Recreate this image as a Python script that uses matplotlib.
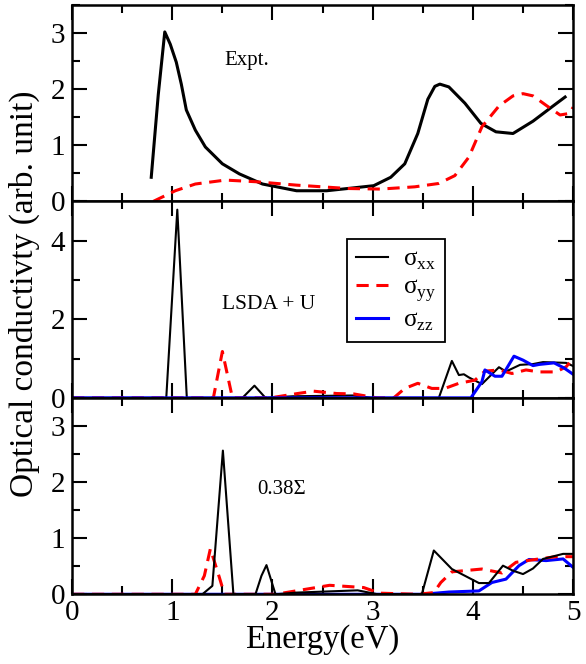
import matplotlib
matplotlib.use("Agg")
import matplotlib.pyplot as plt
from matplotlib.ticker import MultipleLocator

plt.rcParams['font.family'] = ['Liberation Serif', 'DejaVu Serif']
plt.rcParams['mathtext.fontset'] = 'custom'
plt.rcParams['mathtext.rm'] = 'Liberation Serif'

# --- Expt. panel ---
expt_xx_e = [0.79, 0.86, 0.925, 0.98, 1.04, 1.09, 1.14, 1.23, 1.33, 1.50, 1.67, 1.90, 2.24, 2.54,
             2.75, 3.01, 3.18, 3.32, 3.45, 3.55, 3.62, 3.67, 3.76, 3.92, 4.08, 4.23, 4.40, 4.60,
             4.80, 4.92]
expt_xx_s = [0.43, 1.90, 3.02, 2.80, 2.48, 2.09, 1.63, 1.27, 0.97, 0.67, 0.49, 0.31, 0.19, 0.19,
             0.23, 0.28, 0.43, 0.67, 1.21, 1.82, 2.05, 2.09, 2.04, 1.75, 1.39, 1.24, 1.21, 1.43,
             1.70, 1.86]
expt_yy_e = [0.81, 1.03, 1.23, 1.53, 1.84, 2.24, 2.75, 3.08, 3.42, 3.66, 3.82, 3.96, 4.09, 4.26,
             4.40, 4.50, 4.60, 4.74, 4.87, 4.97, 5.0]
expt_yy_s = [0.0, 0.19, 0.31, 0.38, 0.35, 0.29, 0.23, 0.22, 0.26, 0.32, 0.46, 0.79, 1.33, 1.70,
             1.88, 1.92, 1.88, 1.70, 1.54, 1.57, 1.68]

# --- LSDA + U panel ---
lsda_xx_e = [0.0, 0.94, 1.05, 1.145, 1.70, 1.82, 1.93, 2.2, 2.8, 3.0, 3.66, 3.79, 3.86, 3.91,
             3.96, 4.09, 4.26, 4.33, 4.47, 4.60, 4.70, 4.93, 5.0]
lsda_xx_s = [0.0, 0.0, 4.79, 0.0, 0.0, 0.31, 0.0, 0.04, 0.06, 0.0, 0.0, 0.94, 0.58, 0.60,
             0.52, 0.35, 0.78, 0.67, 0.84, 0.86, 0.91, 0.89, 0.81]
lsda_yy_e = [0.0, 1.41, 1.50, 1.60, 1.98, 2.25, 2.41, 2.64, 2.81, 3.04, 3.21, 3.32, 3.45, 3.59,
             3.72, 3.86, 4.02, 4.12, 4.26, 4.39, 4.53, 4.66, 4.83, 4.93, 5.0]
lsda_yy_s = [0.0, 0.0, 1.18, 0.0, 0.0, 0.11, 0.17, 0.11, 0.10, 0.0, 0.0, 0.24, 0.37, 0.24,
             0.24, 0.37, 0.45, 0.68, 0.71, 0.62, 0.71, 0.66, 0.66, 0.79, 1.0]
lsda_zz_e = [0.0, 3.98, 4.09, 4.12, 4.22, 4.29, 4.41, 4.50, 4.60, 4.66, 4.81, 4.91, 5.0]
lsda_zz_s = [0.0, 0.0, 0.41, 0.71, 0.55, 0.55, 1.06, 0.96, 0.82, 0.85, 0.89, 0.76, 0.60]

# --- 0.38 Sigma panel ---
sig_xx_e = [0.0, 1.30, 1.40, 1.505, 1.61, 1.83, 1.89, 1.94, 2.03, 2.24, 2.85, 3.05, 3.49, 3.61,
            3.79, 3.92, 4.06, 4.16, 4.30, 4.40, 4.50, 4.60, 4.70, 4.90, 5.0]
sig_xx_s = [0.0, 0.0, 0.15, 2.56, 0.0, 0.0, 0.33, 0.52, 0.0, 0.03, 0.07, 0.0, 0.0, 0.78,
            0.45, 0.33, 0.20, 0.20, 0.51, 0.42, 0.36, 0.46, 0.63, 0.72, 0.72]
sig_yy_e = [0.0, 1.23, 1.32, 1.38, 1.47, 1.52, 2.03, 2.57, 2.91, 3.07, 3.45, 3.61, 3.68, 3.79,
            4.09, 4.29, 4.43, 4.66, 4.83, 5.0]
sig_yy_s = [0.0, 0.0, 0.33, 0.81, 0.30, 0.0, 0.0, 0.16, 0.12, 0.02, 0.0, 0.03, 0.21, 0.40,
            0.45, 0.38, 0.57, 0.63, 0.67, 0.67]
sig_zz_e = [0.0, 3.50, 3.76, 4.06, 4.19, 4.33, 4.46, 4.56, 4.73, 4.90, 5.0]
sig_zz_s = [0.0, 0.0, 0.04, 0.06, 0.21, 0.27, 0.51, 0.62, 0.60, 0.63, 0.48]

panel_names = ['Expt.', 'LSDA + U', '0.38Σ']
legend_labels = ['σ$_{\\rm xx}$', 'σ$_{\\rm yy}$', 'σ$_{\\rm zz}$']

fig, axes = plt.subplots(3, 1, sharex=True, figsize=(5.86, 6.64), dpi=100)
fig.subplots_adjust(left=0.123, right=0.978, bottom=0.105, top=0.9925, hspace=0)

dash = (0, (4, 2.5))
ax = axes[0]
ax.plot(expt_xx_e, expt_xx_s, color='black', lw=2.2)
ax.plot(expt_yy_e, expt_yy_s, color='red', lw=2.2, ls=dash)
ax.set_ylim(0, 3.5)
ax.yaxis.set_major_locator(MultipleLocator(1))
ax.yaxis.set_minor_locator(MultipleLocator(0.5))
ax.text(1.52, 2.51, panel_names[0], fontsize=15, va='center')

ax = axes[1]
ax.plot(lsda_xx_e, lsda_xx_s, color='black', lw=1.5, label=legend_labels[0])
ax.plot(lsda_yy_e, lsda_yy_s, color='red', lw=2.2, ls=dash, label=legend_labels[1])
ax.plot(lsda_zz_e, lsda_zz_s, color='blue', lw=2.2, label=legend_labels[2])
ax.set_ylim(0, 5)
ax.yaxis.set_major_locator(MultipleLocator(2))
ax.yaxis.set_minor_locator(MultipleLocator(1))
ax.text(1.50, 2.37, panel_names[1], fontsize=15.5, va='center')
leg = ax.legend(loc='upper left', bbox_to_anchor=(0.549, 0.808), fontsize=18,
                handlelength=1.3, borderpad=0.35, labelspacing=0.2, handletextpad=0.6,
                fancybox=False, framealpha=1, edgecolor='black', borderaxespad=0)
leg.get_frame().set_linewidth(1.3)

ax = axes[2]
ax.plot(sig_zz_e, sig_zz_s, color='blue', lw=2.2)
ax.plot(sig_yy_e, sig_yy_s, color='red', lw=2.2, ls=dash)
ax.plot(sig_xx_e, sig_xx_s, color='black', lw=1.5)
ax.set_ylim(0, 3.5)
ax.yaxis.set_major_locator(MultipleLocator(1))
ax.yaxis.set_minor_locator(MultipleLocator(0.5))
ax.text(1.85, 1.86, panel_names[2], fontsize=15, va='center')

for ax in axes:
    ax.set_xlim(0, 5)
    ax.xaxis.set_major_locator(MultipleLocator(1))
    ax.xaxis.set_minor_locator(MultipleLocator(0.5))
    ax.tick_params(which='both', direction='in', top=True, right=True, labelsize=21, width=1.5)
    ax.tick_params(which='major', length=11)
    ax.tick_params(which='minor', length=6)
    ax.tick_params(axis='y', which='major', pad=5)
    ax.tick_params(axis='x', which='major', pad=4)
    for s in ax.spines.values():
        s.set_linewidth(1.8)

axes[2].set_xlabel('Energy(eV)', fontsize=23.5, labelpad=-1)
fig.text(0.042, 0.558, 'Optical conductivty (arb. unit)', rotation=90,
         fontsize=24, ha='center', va='center')

fig.savefig('out.png', dpi=100)
